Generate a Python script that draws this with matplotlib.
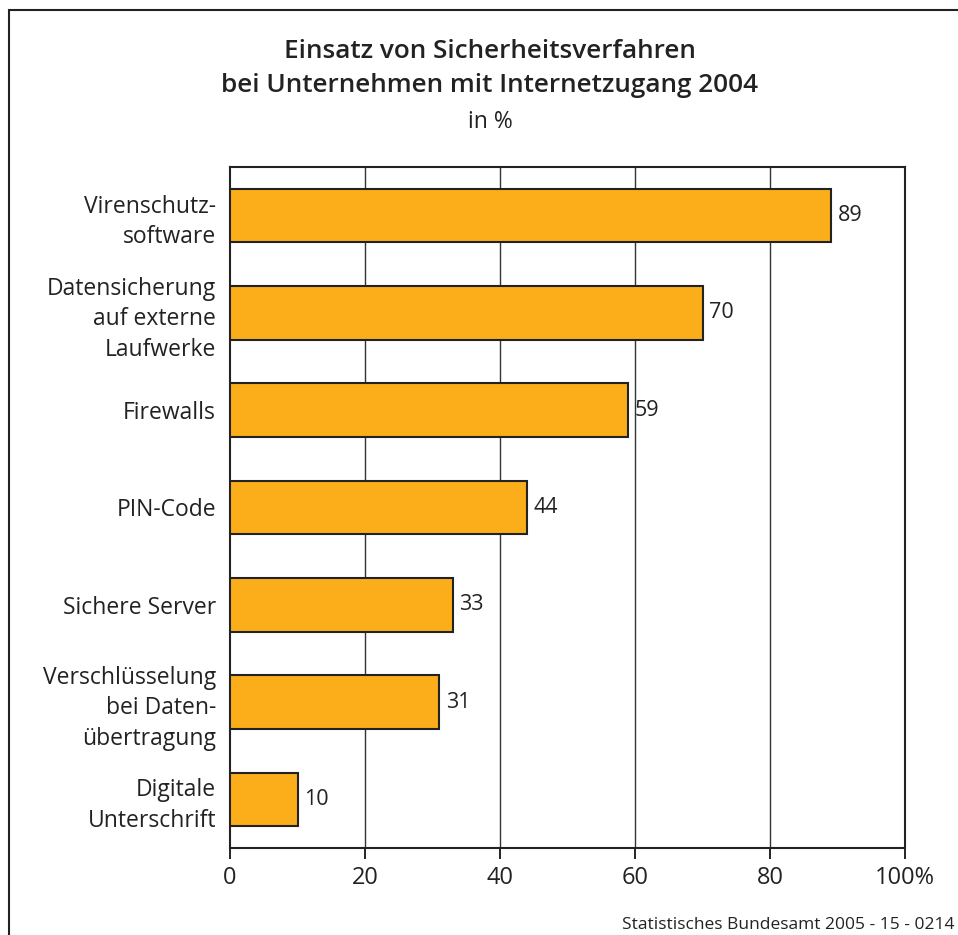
import matplotlib
matplotlib.use("Agg")
import matplotlib.pyplot as plt
from matplotlib.patches import Rectangle

categories = ["Virenschutz-\nsoftware", "Datensicherung\nauf externe\nLaufwerke", "Firewalls",
              "PIN-Code", "Sichere Server", "Verschlüsselung\nbei Daten-\nübertragung",
              "Digitale\nUnterschrift"]
values = [89, 70, 59, 44, 33, 31, 10]
xticks = [0, 20, 40, 60, 80, 100]
xticklabels = ["0", "20", "40", "60", "80", "100%"]

plt.rcParams['font.family'] = ['Open Sans', 'DejaVu Sans']

fig = plt.figure(figsize=(9.58, 9.35), dpi=100)
W, H = 958, 935
ax = fig.add_axes([230 / W, 1 - 848 / H, (905 - 230) / W, (848 - 167) / H])

n = len(categories)
ys = list(range(n))
ax.barh(ys, values, height=0.55, color="#FBAE1A", edgecolor="#222222", linewidth=1.5, zorder=3)
ax.set_ylim(n - 0.5, -0.5)
ax.set_xlim(0, 100)
for v in [20, 40, 60, 80]:
    ax.axvline(v, color="#333333", lw=1.0, zorder=1)
for y, v in zip(ys, values):
    ax.text(v + 1.0, y, str(v), va="center", ha="left", fontsize=15.5, color="#222222")
ax.set_yticks(ys)
ax.set_yticklabels(categories, fontsize=16.5, color="#222222", linespacing=1.38, ha="right")
ax.tick_params(axis="y", length=0, pad=10)
ax.set_xticks(xticks)
ax.set_xticklabels(xticklabels, fontsize=17, color="#222222")
ax.tick_params(axis="x", length=8, width=1.2, pad=5, direction="out")
for s in ax.spines.values():
    s.set_linewidth(1.5)
    s.set_color("#222222")

fig.text(490 / W, 1 - 51 / H, "Einsatz von Sicherheitsverfahren", ha="center", va="center",
         fontsize=18.8, fontweight="semibold", color="#222222")
fig.text(490 / W, 1 - 86 / H, "bei Unternehmen mit Internetzugang 2004", ha="center", va="center",
         fontsize=18.8, fontweight="semibold", color="#222222")
fig.text(490 / W, 1 - 122 / H, "in %", ha="center", va="center", fontsize=16.5, color="#222222")
fig.text(954 / W, 1 - 925 / H, "Statistisches Bundesamt 2005 - 15 - 0214", ha="right", va="center",
         fontsize=12.5, color="#222222")

fig.add_artist(Rectangle((9 / W, -0.05), 1.2, 1 - 10 / H + 0.05, transform=fig.transFigure,
                         fill=False, edgecolor="#222222", linewidth=1.5))

fig.savefig("out.png", dpi=100)
